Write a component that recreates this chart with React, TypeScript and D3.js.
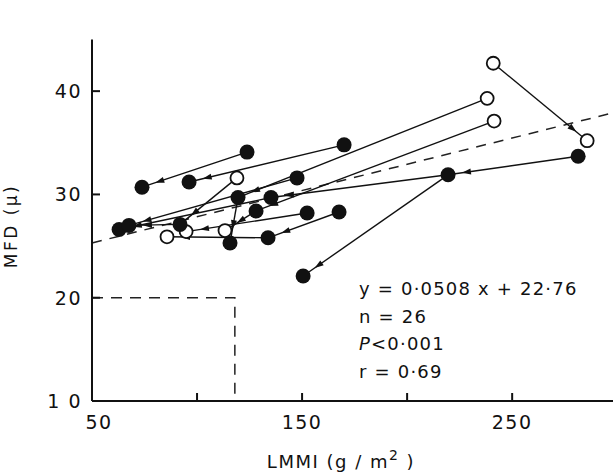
import React from "react";
import * as d3 from "d3";

// measured points: LMMI (g/m2), MFD (micron), filled = true for solid markers
const ids = ["A","B","C","D","E","G","H","I","J","K","L","M","N","P","Q","R","S","T","U","V","W","X","Y","Z","AA","AB"];
const lmmi = [73.8,123.8,96.2,170.0,119.0,119.5,147.6,135.2,128.1,152.4,167.6,62.9,67.6,91.9,85.7,94.8,113.3,115.7,133.8,241.0,238.1,241.4,285.7,281.4,219.5,150.5];
const mfd = [30.7,34.1,31.2,34.8,31.6,29.7,31.6,29.7,28.4,28.2,28.3,26.6,27.0,27.1,25.9,26.4,26.5,25.3,25.8,42.7,39.3,37.1,35.2,33.7,31.9,22.1];
const filled = [true,true,true,true,false,true,true,true,true,true,true,true,true,true,false,false,false,true,true,false,false,false,false,true,true,true];

// changes between measurements (from -> to, arrow points at "to")
const linkFrom = ["B","D","V","Z","AA","AA","W","X","H","E","I","K","L","J","G","U","P"];
const linkTo   = ["A","C","Y","AA","AB","I","G","J","N","P","M","R","U","S","T","Q","N"];

const xTicks = [50, 100, 150, 200, 250];
const xLabels = [50, 150, 250];
const yTicks = [20, 30, 40];
const yLabels = [10, 20, 30, 40];

const slope = 0.0508;
const intercept = 22.76;
const boxX = 118;
const boxY = 20;

const statLines = ["y = 0·0508 x + 22·76", "n = 26", "P<0·001", "r = 0·69"];

export default function App() {
  const W = 613, H = 474;
  const x = d3.scaleLinear().domain([50, 298]).range([92, 613]);
  const y = d3.scaleLinear().domain([10, 45]).range([401, 39.5]);
  const font = "'DejaVu Sans', sans-serif";

  const pos = (id: string) => {
    const i = ids.indexOf(id);
    return [x(lmmi[i]), y(mfd[i])];
  };

  const reg = d3.line<number>().x((d) => x(d)).y((d) => y(slope * d + intercept));

  return (
    <svg width={W} height={H} style={{ position: "absolute", left: 0, top: 0, background: "#fff" }}>
      {/* regression line */}
      <path d={reg([50, 298]) || ""} fill="none" stroke="#222" strokeWidth={1.5} strokeDasharray="10,8" />
      {/* dashed threshold box */}
      <path
        d={`M${x(50)},${y(boxY)}H${x(boxX)}V${y(10)}`}
        fill="none"
        stroke="#222"
        strokeWidth={1.5}
        strokeDasharray="11,8"
      />

      {/* axes */}
      <line x1={x(50)} x2={613} y1={y(10)} y2={y(10)} stroke="#111" strokeWidth={2} />
      <line x1={x(50)} x2={x(50)} y1={y(10)} y2={39.5} stroke="#111" strokeWidth={2} />
      {xTicks.map((t) => (
        <line key={t} x1={x(t)} x2={x(t)} y1={y(10)} y2={y(10) - 8} stroke="#111" strokeWidth={2} />
      ))}
      {yTicks.map((t) => (
        <line key={t} x1={x(50)} x2={x(50) + 8} y1={y(t)} y2={y(t)} stroke="#111" strokeWidth={2} />
      ))}
      {xLabels.map((t) => (
        <text key={t} x={x(t) + (t === 50 ? 7 : 0)} y={y(10) + 28} textAnchor="middle" fontFamily={font} fontSize={19} letterSpacing={1.5} fill="#111">
          {t}
        </text>
      ))}
      {yLabels.map((t) => (
        <text key={t} x={x(50) - 10} y={y(t) + 7} textAnchor="end" fontFamily={font} fontSize={19} letterSpacing={1.5} fill="#111">
          {t === 10 ? "1 0" : t}
        </text>
      ))}
      <text x={341} y={468} textAnchor="middle" fontFamily={font} fontSize={18} letterSpacing={1.5} fill="#111">
        LMMI (g / m<tspan dy={-8} fontSize={14}>2</tspan><tspan dy={8}> )</tspan>
      </text>
      <text transform="translate(17,226) rotate(-90)" textAnchor="middle" fontFamily={font} fontSize={17} letterSpacing={2.5} fill="#111">
        MFD (μ)
      </text>

      {/* links and arrows */}
      {linkFrom.map((f, i) => {
        const [x1, y1] = pos(f);
        const [x2, y2] = pos(linkTo[i]);
        const len = Math.hypot(x2 - x1, y2 - y1);
        const ux = (x2 - x1) / len, uy = (y2 - y1) / len;
        const tx = x2 - ux * 14, ty = y2 - uy * 14;
        const bx = tx - ux * 9, by = ty - uy * 9;
        const pts = `${tx},${ty} ${bx - uy * 3},${by + ux * 3} ${bx + uy * 3},${by - ux * 3}`;
        return (
          <g key={i}>
            <line x1={x1} y1={y1} x2={x2} y2={y2} stroke="#111" strokeWidth={1.4} />
            <polygon points={pts} fill="#111" />
          </g>
        );
      })}

      {/* open markers under filled */}
      {ids.map((id, i) =>
        filled[i] ? null : (
          <circle key={id} cx={x(lmmi[i])} cy={y(mfd[i])} r={6.5} fill="#fff" stroke="#111" strokeWidth={1.8} />
        )
      )}
      {ids.map((id, i) =>
        filled[i] ? <circle key={id} cx={x(lmmi[i])} cy={y(mfd[i])} r={7.5} fill="#111" /> : null
      )}

      {/* regression stats */}
      {statLines.map((s, i) => (
        <text key={i} x={359} y={295 + i * 27.5} fontFamily={font} fontSize={18} letterSpacing={1.2} fill="#111">
          {i === 2 ? (
            <>
              <tspan fontStyle="italic">P</tspan>
              {s.slice(1)}
            </>
          ) : (
            s
          )}
        </text>
      ))}
    </svg>
  );
}
